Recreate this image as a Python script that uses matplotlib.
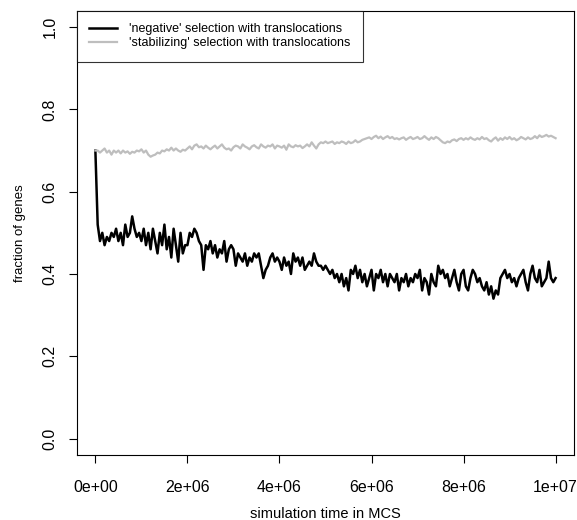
import matplotlib.pyplot as plt
import numpy as np

plt.rcParams["font.family"] = ["Liberation Sans", "DejaVu Sans"]

# simulation time, one sample every 5e4 MCS
time_mcs = np.arange(201) * 5e4

negative = [
    0.70, 0.52, 0.48, 0.50, 0.47, 0.49, 0.48, 0.50, 0.49, 0.51,
    0.48, 0.50, 0.47, 0.52, 0.49, 0.50, 0.54, 0.51, 0.49, 0.50,
    0.48, 0.51, 0.47, 0.50, 0.46, 0.51, 0.48, 0.45, 0.50, 0.47,
    0.52, 0.46, 0.49, 0.44, 0.51, 0.47, 0.43, 0.50, 0.45, 0.47,
    0.47, 0.50, 0.49, 0.51, 0.50, 0.48, 0.47, 0.41, 0.47, 0.46,
    0.48, 0.45, 0.47, 0.44, 0.46, 0.45, 0.48, 0.43, 0.46, 0.47,
    0.46, 0.42, 0.45, 0.44, 0.43, 0.45, 0.42, 0.44, 0.43, 0.45,
    0.44, 0.45, 0.42, 0.39, 0.41, 0.42, 0.44, 0.45, 0.43, 0.44,
    0.43, 0.41, 0.44, 0.42, 0.43, 0.40, 0.45, 0.43, 0.44, 0.42,
    0.44, 0.41, 0.42, 0.43, 0.42, 0.45, 0.43, 0.42, 0.42, 0.41,
    0.42, 0.41, 0.40, 0.41, 0.39, 0.40, 0.38, 0.40, 0.37, 0.39,
    0.36, 0.41, 0.40, 0.42, 0.39, 0.41, 0.38, 0.40, 0.37, 0.39,
    0.41, 0.36, 0.40, 0.39, 0.41, 0.38, 0.40, 0.37, 0.40, 0.39,
    0.38, 0.40, 0.36, 0.39, 0.38, 0.40, 0.37, 0.39, 0.38, 0.40,
    0.39, 0.41, 0.36, 0.39, 0.38, 0.35, 0.40, 0.38, 0.37, 0.42,
    0.40, 0.41, 0.39, 0.40, 0.37, 0.39, 0.41, 0.38, 0.36, 0.40,
    0.41, 0.37, 0.36, 0.39, 0.41, 0.40, 0.38, 0.39, 0.37, 0.36,
    0.38, 0.35, 0.37, 0.34, 0.36, 0.35, 0.39, 0.40, 0.41, 0.39,
    0.40, 0.38, 0.39, 0.37, 0.39, 0.40, 0.41, 0.38, 0.36, 0.40,
    0.42, 0.39, 0.38, 0.41, 0.37, 0.38, 0.39, 0.43, 0.39, 0.38,
    0.39,
]

stabilizing = [
    0.700, 0.700, 0.695, 0.700, 0.705, 0.695, 0.700, 0.690, 0.700, 0.695,
    0.700, 0.693, 0.700, 0.695, 0.698, 0.692, 0.697, 0.695, 0.700, 0.698,
    0.703, 0.695, 0.700, 0.690, 0.685, 0.688, 0.690, 0.695, 0.693, 0.700,
    0.698, 0.703, 0.700, 0.707, 0.700, 0.705, 0.700, 0.697, 0.702, 0.700,
    0.705, 0.710, 0.703, 0.712, 0.715, 0.708, 0.710, 0.705, 0.712, 0.707,
    0.703, 0.708, 0.712, 0.705, 0.710, 0.715, 0.707, 0.703, 0.705, 0.700,
    0.708, 0.712, 0.710, 0.705, 0.715, 0.710, 0.707, 0.703, 0.710, 0.713,
    0.708, 0.705, 0.715, 0.710, 0.707, 0.712, 0.710, 0.715, 0.705, 0.712,
    0.710, 0.707, 0.712, 0.702, 0.715, 0.710, 0.708, 0.713, 0.710, 0.712,
    0.706, 0.710, 0.715, 0.710, 0.720, 0.712, 0.705, 0.715, 0.720, 0.718,
    0.722, 0.718, 0.720, 0.722, 0.716, 0.720, 0.718, 0.722, 0.720, 0.716,
    0.722, 0.718, 0.720, 0.725, 0.720, 0.722, 0.726, 0.728, 0.730, 0.732,
    0.728, 0.733, 0.736, 0.730, 0.734, 0.728, 0.732, 0.735, 0.730, 0.733,
    0.728, 0.730, 0.727, 0.730, 0.732, 0.726, 0.730, 0.733, 0.728, 0.730,
    0.733, 0.728, 0.730, 0.735, 0.730, 0.726, 0.732, 0.728, 0.733, 0.730,
    0.725, 0.720, 0.718, 0.722, 0.720, 0.725, 0.727, 0.723, 0.728, 0.730,
    0.726, 0.730, 0.727, 0.732, 0.728, 0.726, 0.730, 0.727, 0.733, 0.728,
    0.730, 0.725, 0.722, 0.728, 0.732, 0.724, 0.730, 0.726, 0.732, 0.728,
    0.733, 0.727, 0.730, 0.725, 0.728, 0.733, 0.730, 0.727, 0.732, 0.728,
    0.730, 0.735, 0.730, 0.737, 0.733, 0.735, 0.738, 0.734, 0.736, 0.733,
    0.730,
]

labels = ["'negative' selection with translocations",
          "'stabilizing' selection with translocations"]

fig = plt.figure(figsize=(5.77, 5.20), dpi=100)
ax = fig.add_axes([0.1334, 0.125, 0.8614, 0.8545])

ax.plot(time_mcs, negative, color="black", lw=1.8, label=labels[0])
ax.plot(time_mcs, stabilizing, color="#bebebe", lw=1.6, label=labels[1])

ax.set_xlim(-0.04e7, 1.04e7)
ax.set_ylim(-0.04, 1.04)
ax.set_xticks(np.arange(0, 1.01e7, 2e6))
ax.set_xticklabels(["0e+00", "2e+06", "4e+06", "6e+06", "8e+06", "1e+07"])
ax.set_yticks([0.0, 0.2, 0.4, 0.6, 0.8, 1.0])
ax.set_yticklabels(["0.0", "0.2", "0.4", "0.6", "0.8", "1.0"],
                   rotation=90, va="center")
ax.tick_params(length=6, width=0.8, labelsize=11.5)
ax.tick_params(axis="x", pad=12)
ax.tick_params(axis="y", pad=8)
for s in ax.spines.values():
    s.set_linewidth(0.8)

ax.set_xlabel("simulation time in MCS", fontsize=10.5, labelpad=9)
ax.set_ylabel("fraction of genes", fontsize=9.5, labelpad=12)

leg = ax.legend(loc="upper left", borderaxespad=0, fancybox=False,
                edgecolor="black", fontsize=9, handlelength=2.2,
                handletextpad=0.95, borderpad=1.0, labelspacing=0.15)
leg.get_frame().set_linewidth(0.8)

fig.savefig("out.png", dpi=100)
